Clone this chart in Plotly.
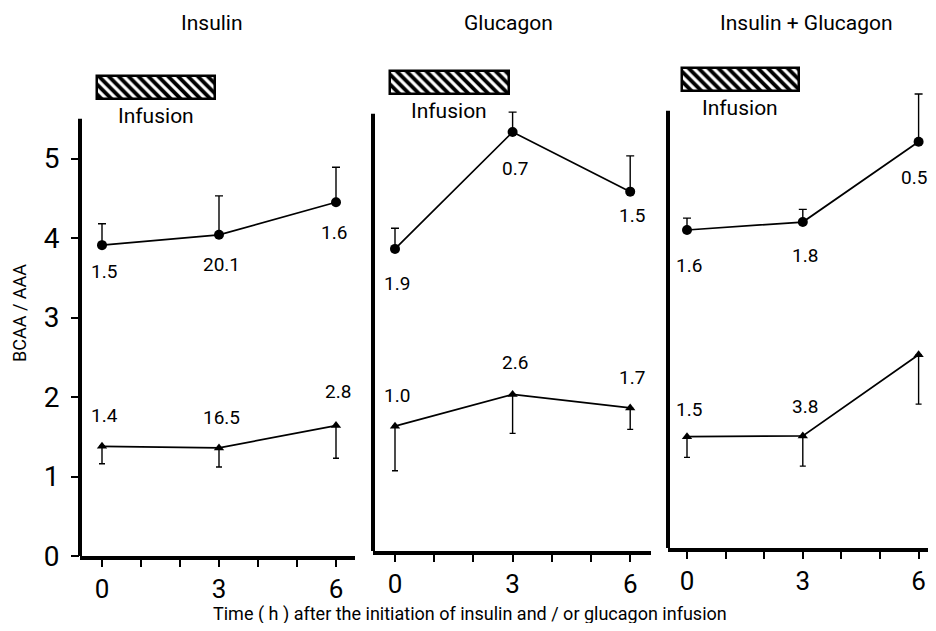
import plotly.graph_objects as go

# ---------------- data ----------------
TIME_H = [0, 3, 6]
PANEL_TITLES = ["Insulin", "Glucagon", "Insulin + Glucagon"]

# upper series (filled circles), mean and upward SD
circle_means = [
    [3.91, 4.04, 4.45],
    [3.80, 5.27, 4.52],
    [4.00, 4.10, 5.11],
]
circle_err_up = [
    [0.27, 0.49, 0.44],
    [0.26, 0.25, 0.45],
    [0.15, 0.16, 0.60],
]
circle_labels = [
    ["1.5", "20.1", "1.6"],
    ["1.9", "0.7", "1.5"],
    ["1.6", "1.8", "0.5"],
]

# lower series (filled triangles), mean and downward SD
triangle_means = [
    [1.38, 1.36, 1.64],
    [1.57, 1.97, 1.80],
    [1.40, 1.41, 2.43],
]
triangle_err_down = [
    [0.22, 0.24, 0.41],
    [0.56, 0.49, 0.27],
    [0.26, 0.38, 0.62],
]
triangle_labels = [
    ["1.4", "16.5", "2.8"],
    ["1.0", "2.6", "1.7"],
    ["1.5", "3.8", ""],
]

Y_TICKS = [0, 1, 2, 3, 4, 5]
X_TICKVALS = [0, 1, 2, 3, 4, 5, 6]
X_TICKTEXT = ["0", "", "", "3", "", "", "6"]

INFUSION_START_H = -0.14
INFUSION_END_H = 2.9
INFUSION_BAR_LOW = 5.75
INFUSION_BAR_HIGH = 6.04

Y_TITLE = "BCAA / AAA"
X_TITLE = "Time ( h ) after the initiation of insulin and / or glucagon infusion"

# ---------------- layout geometry (style only) ----------------
PAGE_PAD = 8                      # default body margin of the html page
W, H = 936 - 2 * PAGE_PAD, 631 - 2 * PAGE_PAD
PX_PER_UNIT = 79.5
px_per_hour = [39.0, 39.2, 38.6]
# positions below are given in window pixels, converted by subtracting PAGE_PAD
panel_left_px = [80, 373, 668]
panel_right_px = [355, 651, 936]
zero_hour_px = [102, 395, 687]
zero_y_px = [556, 551, 548]
title_x_px = [212, 508, 806]
circle_label_dy = [[-26, -30, -30], [-35, -36, -24], [-35, -33, -36]]
circle_label_dx = [[2, 2, -2], [2, 2, 2], [2, 2, -5]]
triangle_label_dy = [[31, 30, 34], [31, 32, 30], [27, 29, 30]]


def fx(px):
    return (px - PAGE_PAD) / W


def fy(py):
    return 1 - (py - PAGE_PAD) / H


FONT = "Roboto, 'Liberation Sans Narrow', 'DejaVu Sans Condensed', sans-serif"

fig = go.Figure()

for i in range(3):
    sfx = "" if i == 0 else str(i + 1)
    xref, yref = "x" + sfx, "y" + sfx

    # circles with upward error bars
    fig.add_trace(go.Scatter(
        x=TIME_H, y=circle_means[i], xaxis=xref, yaxis=yref,
        mode="lines+markers",
        line=dict(color="black", width=1.7),
        marker=dict(symbol="circle", size=10, color="black"),
        error_y=dict(type="data", symmetric=False, array=circle_err_up[i],
                     arrayminus=[0] * 3, color="black", thickness=1.4, width=4),
        showlegend=False, hoverinfo="skip",
    ))
    # triangles with downward error bars
    fig.add_trace(go.Scatter(
        x=TIME_H, y=triangle_means[i], xaxis=xref, yaxis=yref,
        mode="lines+markers",
        line=dict(color="black", width=1.7),
        marker=dict(symbol="triangle-up", size=9, color="black"),
        error_y=dict(type="data", symmetric=False, array=[0] * 3,
                     arrayminus=triangle_err_down[i], color="black",
                     thickness=1.4, width=3),
        showlegend=False, hoverinfo="skip",
    ))
    # hatched infusion bar
    fig.add_trace(go.Bar(
        x=[(INFUSION_START_H + INFUSION_END_H) / 2],
        width=[INFUSION_END_H - INFUSION_START_H],
        y=[INFUSION_BAR_HIGH - INFUSION_BAR_LOW], base=[INFUSION_BAR_LOW],
        xaxis=xref, yaxis=yref,
        marker=dict(color="white", line=dict(color="black", width=2.5),
                    pattern=dict(shape="\\", fgcolor="black", bgcolor="white",
                                 size=7, solidity=0.55)),
        showlegend=False, hoverinfo="skip",
    ))

    # axes
    right = min(panel_right_px[i], PAGE_PAD + W)
    xd = [fx(panel_left_px[i]), fx(right)]
    x0 = (panel_left_px[i] - zero_hour_px[i]) / px_per_hour[i]
    x1 = (right - zero_hour_px[i]) / px_per_hour[i]
    yd = [fy(zero_y_px[i]), 1]
    y1 = (zero_y_px[i] - PAGE_PAD) / PX_PER_UNIT

    fig.update_layout(**{
        "xaxis" + sfx: dict(
            domain=xd, range=[x0, x1], anchor=yref, automargin=False,
            showline=True, linecolor="black", linewidth=3.5,
            tickmode="array", tickvals=X_TICKVALS, ticktext=X_TICKTEXT,
            ticks="outside", ticklen=7, tickwidth=2, tickcolor="black",
            ticklabeloverflow="allow",
            tickfont=dict(family=FONT, size=26, color="black"),
            showgrid=False, zeroline=False, fixedrange=True,
        ),
        "yaxis" + sfx: dict(
            domain=yd, range=[0, y1], anchor=xref, automargin=False,
            showline=False, showgrid=False, zeroline=False,
            tickmode="array", tickvals=Y_TICKS,
            ticks="outside" if i == 0 else "", ticklen=8, tickwidth=2,
            tickcolor="black", showticklabels=(i == 0),
            ticklabelstandoff=6, ticklabeloverflow="allow",
            tickfont=dict(family=FONT, size=28, color="black"),
            fixedrange=True,
        ),
    })

    # vertical axis line (ends at 5.5)
    fig.add_shape(type="line", xref=xref + " domain", yref=yref,
                  x0=0, x1=0, y0=-0.02, y1=5.5,
                  line=dict(color="black", width=4))

    # "Infusion" label
    fig.add_annotation(x=(INFUSION_START_H + INFUSION_END_H) / 2, y=5.53,
                       xref=xref, yref=yref, text="Infusion", showarrow=False,
                       xanchor="center", yanchor="middle",
                       font=dict(family=FONT, size=21, color="black"))

    # numeric labels
    for j, (t, v, lab) in enumerate(zip(TIME_H, circle_means[i], circle_labels[i])):
        if lab:
            fig.add_annotation(x=t, y=v, xref=xref, yref=yref, text=lab,
                               showarrow=False, yshift=circle_label_dy[i][j],
                               xshift=circle_label_dx[i][j],
                               xanchor="center", yanchor="middle",
                               font=dict(family=FONT, size=19, color="black"))
    for j, (t, v, lab) in enumerate(zip(TIME_H, triangle_means[i], triangle_labels[i])):
        if lab:
            fig.add_annotation(x=t, y=v, xref=xref, yref=yref, text=lab,
                               showarrow=False, yshift=triangle_label_dy[i][j],
                               xshift=2, xanchor="center", yanchor="middle",
                               font=dict(family=FONT, size=19, color="black"))

    # panel title
    fig.add_annotation(x=fx(title_x_px[i]), y=fy(23), xref="paper", yref="paper",
                       text=PANEL_TITLES[i], showarrow=False,
                       xanchor="center", yanchor="middle",
                       font=dict(family=FONT, size=21, color="black"))

# axis titles
fig.add_annotation(x=fx(20), y=fy(313), xref="paper", yref="paper",
                   text=Y_TITLE, textangle=-90, showarrow=False,
                   xanchor="center", yanchor="middle",
                   font=dict(family=FONT, size=18, color="black"))
fig.add_annotation(x=fx(470), y=fy(614), xref="paper", yref="paper",
                   text=X_TITLE, showarrow=False,
                   xanchor="center", yanchor="middle",
                   font=dict(family=FONT, size=18, color="black"))

fig.update_layout(
    template="none",
    width=W, height=H,
    margin=dict(l=0, r=0, t=0, b=0, pad=0, autoexpand=False),
    paper_bgcolor="white", plot_bgcolor="white",
    showlegend=False, bargap=0,
)

fig.write_html("out.html", config={"displayModeBar": False})
